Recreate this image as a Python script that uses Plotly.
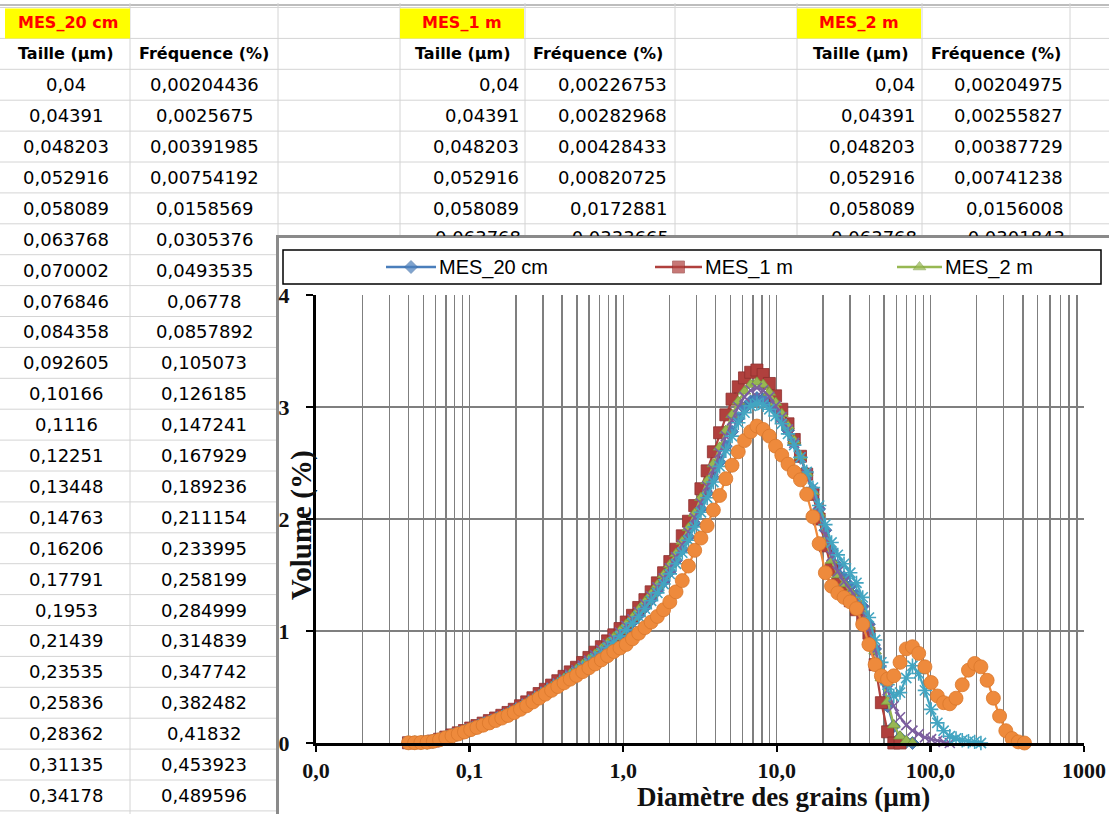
import plotly.graph_objects as go

W, H = 1109, 814

# ---------------- data ----------------
sizes = [0.04, 0.04391, 0.048203, 0.052916, 0.058089, 0.063768, 0.070002, 0.076846, 0.084358, 0.092605,
         0.10166, 0.1116, 0.12251, 0.13448, 0.14763, 0.16206, 0.17791, 0.1953, 0.21439, 0.23535,
         0.25836, 0.28362, 0.31135, 0.34178, 0.3752, 0.41188, 0.45215, 0.49635, 0.54488, 0.59815,
         0.65662, 0.72081, 0.79128, 0.86864, 0.95356, 1.0468, 1.1491, 1.2615, 1.3848, 1.5202,
         1.6688, 1.832, 2.0111, 2.2077, 2.4235, 2.6605, 2.9206, 3.2061, 3.5195, 3.8636,
         4.2413, 4.6559, 5.1111, 5.6107, 6.1593, 6.7614, 7.4224, 8.148, 8.9446, 9.819,
         10.779, 11.833, 12.989, 14.259, 15.653, 17.184, 18.864, 20.708, 22.732, 24.955,
         27.394, 30.072, 33.012, 36.24, 39.783, 43.672, 47.942, 52.629, 57.774, 63.422,
         69.622, 76.429, 83.901, 92.103, 101.11, 110.99, 121.84, 133.75, 146.83, 161.19,
         176.95, 194.25, 213.24, 234.08, 256.97, 282.09, 309.67, 339.95, 373.18, 409.67]

mes_20cm = [0.00204436, 0.0025675, 0.00391985, 0.00754192, 0.0158569, 0.0305376, 0.0493535, 0.06778, 0.0857892, 0.105073,
            0.126185, 0.147241, 0.167929, 0.189236, 0.211154, 0.233995, 0.258199, 0.284999, 0.314839, 0.347742,
            0.382482, 0.41832, 0.453923, 0.489596,
            0.526, 0.563, 0.601, 0.640, 0.681, 0.724, 0.769, 0.816, 0.865, 0.917,
            0.970, 1.02, 1.08, 1.14, 1.21, 1.28, 1.36, 1.44, 1.53, 1.63,
            1.73, 1.84, 1.96, 2.09, 2.23, 2.37, 2.51, 2.65, 2.78, 2.90,
            2.99, 3.05, 3.08, 3.07, 3.03, 2.97, 2.89, 2.79, 2.68, 2.55,
            2.41, 2.26, 2.09, 1.90, 1.72, 1.58, 1.48, 1.40, 1.32, 1.22,
            1.06, 0.84, 0.58, 0.33, 0.15, 0.05, 0.01, 0.0]

mes_1m = [0.00226753, 0.00282968, 0.00428433, 0.00820725, 0.0172881, 0.0333665,
          0.0525, 0.0718, 0.0908, 0.1112, 0.1335, 0.1557, 0.1775, 0.2000, 0.2231, 0.2472,
          0.2728, 0.3010, 0.3325, 0.3672, 0.4039, 0.4417, 0.4793, 0.5170,
          0.556, 0.595, 0.635, 0.676, 0.719, 0.764, 0.811, 0.860, 0.912, 0.966, 1.022,
          1.08, 1.14, 1.21, 1.28, 1.35, 1.43, 1.52, 1.62, 1.73, 1.85, 1.98,
          2.12, 2.27, 2.43, 2.60, 2.77, 2.93, 3.07, 3.18, 3.26, 3.31, 3.33,
          3.29, 3.21, 3.10, 2.98, 2.85, 2.71, 2.56, 2.40, 2.22, 2.00, 1.76,
          1.55, 1.42, 1.34, 1.27, 1.19, 1.10, 0.98,
          0.70, 0.36, 0.10, 0.0, 0.0]

mes_2m = [0.00204975, 0.00255827, 0.00387729, 0.00741238, 0.0156008, 0.0301843,
          0.0488, 0.0672, 0.0853, 0.1048, 0.1262, 0.1476, 0.1687, 0.1904, 0.2127, 0.2361,
          0.2609, 0.2885, 0.3193, 0.3534, 0.3894, 0.4265, 0.4637, 0.5010,
          0.539, 0.578, 0.618, 0.659, 0.701, 0.745, 0.792, 0.841, 0.892, 0.945, 1.000,
          1.06, 1.12, 1.19, 1.26, 1.33, 1.41, 1.50, 1.59, 1.69, 1.80, 1.92,
          2.05, 2.19, 2.34, 2.49, 2.64, 2.79, 2.93, 3.05, 3.14, 3.20, 3.22,
          3.20, 3.13, 3.04, 2.94, 2.83, 2.70, 2.56, 2.41, 2.24, 2.05, 1.83,
          1.63, 1.50, 1.42, 1.35, 1.28, 1.18, 1.04,
          0.82, 0.58, 0.37, 0.16, 0.06, 0.02, 0.0]

serie_4 = [0.0021, 0.0026, 0.0040, 0.0077, 0.0161, 0.0310, 0.0500, 0.0687, 0.0869, 0.1064,
           0.1278, 0.1491, 0.1700, 0.1916, 0.2138, 0.2369, 0.2614, 0.2885, 0.3187, 0.3520,
           0.3872, 0.4234, 0.4595, 0.4956,
           0.533, 0.571, 0.610, 0.650, 0.692, 0.736, 0.782, 0.830, 0.880, 0.932, 0.987,
           1.045, 1.105, 1.17, 1.24, 1.31, 1.39, 1.47, 1.56, 1.66, 1.77, 1.88,
           2.01, 2.14, 2.29, 2.44, 2.59, 2.74, 2.88, 3.00, 3.09, 3.15, 3.17,
           3.15, 3.09, 3.01, 2.91, 2.80, 2.68, 2.55, 2.40, 2.24, 2.06, 1.86,
           1.67, 1.53, 1.44, 1.37, 1.29, 1.18, 1.02,
           0.83, 0.65, 0.47, 0.33, 0.23, 0.16, 0.11, 0.08, 0.05, 0.035, 0.02, 0.01, 0.0]

serie_5 = [0.0020, 0.0025, 0.0038, 0.0073, 0.0154, 0.0297, 0.0481, 0.0662, 0.0839, 0.1028,
           0.1236, 0.1444, 0.1649, 0.1860, 0.2077, 0.2304, 0.2545, 0.2810, 0.3105, 0.3430,
           0.3775, 0.4130, 0.4485, 0.4840,
           0.520, 0.556, 0.593, 0.631, 0.671, 0.713, 0.757, 0.803, 0.851, 0.901, 0.954,
           1.01, 1.07, 1.13, 1.20, 1.27, 1.34, 1.42, 1.51, 1.60, 1.70, 1.81,
           1.93, 2.06, 2.19, 2.33, 2.47, 2.61, 2.74, 2.86, 2.95, 3.01, 3.03,
           3.02, 2.98, 2.92, 2.85, 2.76, 2.66, 2.55, 2.42, 2.28, 2.12, 1.95,
           1.79, 1.68, 1.60, 1.52, 1.43, 1.30, 1.12,
           0.92, 0.72, 0.52, 0.42, 0.45, 0.58, 0.69, 0.62, 0.47, 0.30, 0.18, 0.11, 0.06, 0.04,
           0.025, 0.015, 0.01, 0.0]

serie_6 = [0.0019, 0.0024, 0.0036, 0.0070, 0.0148, 0.0285, 0.0462, 0.0636, 0.0806, 0.0988,
           0.1189, 0.1390, 0.1588, 0.1792, 0.2003, 0.2223, 0.2457, 0.2716, 0.3004, 0.3322,
           0.3660, 0.4010, 0.4360, 0.4700,
           0.504, 0.537, 0.570, 0.603, 0.637, 0.671, 0.706, 0.742, 0.779, 0.817, 0.848,
           0.88, 0.93, 0.98, 1.03, 1.08, 1.13, 1.19, 1.26, 1.35, 1.45, 1.58,
           1.72, 1.83, 1.94, 2.08, 2.21, 2.36, 2.48, 2.60, 2.70, 2.78, 2.83,
           2.80, 2.74, 2.65, 2.57, 2.49, 2.42, 2.35, 2.22, 2.02, 1.78, 1.52,
           1.40, 1.34, 1.30, 1.26, 1.20, 1.06, 0.88,
           0.70, 0.60, 0.57, 0.60, 0.72, 0.84, 0.86, 0.80, 0.68, 0.54, 0.42, 0.36, 0.35, 0.40,
           0.52, 0.65, 0.71, 0.68, 0.56, 0.40, 0.24, 0.11, 0.04, 0.01, 0.0]

series_names = ["MES_20 cm", "MES_1 m", "MES_2 m", "Série 4", "Série 5", "Série 6"]
legend_names = ["MES_20 cm", "MES_1 m", "MES_2 m"]

x_tickvals = [0.01, 0.1, 1, 10, 100, 1000]
x_ticktext = ["0,0", "0,1", "1,0", "10,0", "100,0", "1000"]
y_tickvals = [0, 1, 2, 3, 4]
y_ticktext = ["0", "1", "2", "3", "4"]

table_sizes_shown = sizes[:24]
table_freq_20cm = mes_20cm[:24]
table_sizes_other = sizes[:6]
table_freq_1m = mes_1m[:6]
table_freq_2m = mes_2m[:6]

# ---------------- styles ----------------
colors = ["#4A7EBB", "#B0403D", "#97B852", "#7C5E9F", "#43A5C1", "#EE8A3C"]
edge = ["#3B689F", "#8E302E", "#7A9A3E", "#644985", "#3A93AE", "#D9772C"]
symbols = ["diamond", "square", "triangle-up", "x-thin-open", "asterisk-open", "circle"]
msizes = [10, 12, 11, 10, 12, 14]

SERIF = "Liberation Serif"
TABLE = "DejaVu Sans"
LEG = "Liberation Sans, Arial, sans-serif"


def fr(v):
    return str(v).replace(".", ",")


def px(x):
    return x / W


def py(y):
    return 1 - y / H


fig = go.Figure()

# ---------------- chart traces ----------------
for name, vals, c, e, s, m in zip(series_names, [mes_20cm, mes_1m, mes_2m, serie_4, serie_5, serie_6],
                                  colors, edge, symbols, msizes):
    openm = s.endswith("open")
    fig.add_trace(go.Scatter(
        x=sizes[:len(vals)], y=vals, name=name, mode="lines+markers",
        line=dict(color=c, width=2.25),
        marker=dict(symbol=s, size=m, color=c,
                    line=dict(color=c if openm else e, width=1.6 if openm else 0.8)),
        xaxis="x", yaxis="y", showlegend=False, cliponaxis=False, hoverinfo="skip"))

# ---------------- legend (drawn manually in pixel overlay) ----------------
leg_line_x = [(386, 436), (655, 702), (897, 942)]
leg_text_x = [437, 703, 943]
leg_y = 267
for i, (x0, x1) in enumerate(leg_line_x):
    fig.add_trace(go.Scatter(
        x=[x0, (x0 + x1) / 2, x1], y=[leg_y, leg_y, leg_y], mode="lines+markers",
        line=dict(color=colors[i], width=2.5),
        marker=dict(symbol=symbols[i], size=[0, msizes[i], 0], color=colors[i],
                    line=dict(color=edge[i], width=0.8)),
        xaxis="x2", yaxis="y2", showlegend=False, cliponaxis=False, hoverinfo="skip"))

# ---------------- partially hidden table row (clipped by overlay) ----------------
row_h = 30.9
row_top = 7.5


def rc(r):
    return row_top + row_h * (r + 0.5)


clip_x = [521, 669, 917, 1065]
clip_txt = [fr(table_sizes_other[5]), fr(table_freq_1m[5]), fr(table_sizes_other[5]), fr(table_freq_2m[5])]
fig.add_trace(go.Scatter(
    x=clip_x, y=[rc(7)] * 4, mode="text", text=clip_txt, textposition="middle left",
    textfont=dict(family=TABLE, size=18, color="black"),
    xaxis="x3", yaxis="y3", showlegend=False, hoverinfo="skip"))

# ---------------- shapes: spreadsheet grid, chart frame, legend box ----------------
shapes = []
grid_c = "#d4d4d4"
shapes.append(dict(type="line", xref="paper", yref="paper", x0=0, x1=1, y0=py(5), y1=py(5),
                   line=dict(color="#bdbdbd", width=2), layer="below"))
for k in range(27):
    yk = row_top + row_h * k
    shapes.append(dict(type="line", xref="paper", yref="paper", x0=0, x1=1, y0=py(yk), y1=py(yk),
                       line=dict(color=grid_c, width=1), layer="below"))
for xc in [130, 278, 400, 525, 675, 797, 922, 1070]:
    shapes.append(dict(type="line", xref="paper", yref="paper", x0=px(xc), x1=px(xc), y0=py(3), y1=0,
                       line=dict(color=grid_c, width=1), layer="below"))
for (a, b) in [(5, 130), (400, 524), (797, 921)]:
    shapes.append(dict(type="rect", xref="paper", yref="paper", x0=px(a), x1=px(b), y0=py(8.5), y1=py(38.5),
                       fillcolor="#FFFF00", line=dict(width=0), layer="below"))
# chart frame: white area + gray left/top borders (kept inside the figure)
shapes.append(dict(type="rect", xref="paper", yref="paper", x0=px(277), x1=1, y0=0, y1=py(236),
                   fillcolor="white", line=dict(width=0), layer="below"))
shapes.append(dict(type="line", xref="paper", yref="paper", x0=px(277.5), x1=px(277.5), y0=0, y1=py(235),
                   line=dict(color="#8a8a8a", width=3), layer="below"))
shapes.append(dict(type="line", xref="paper", yref="paper", x0=px(276), x1=1, y0=py(236.5), y1=py(236.5),
                   line=dict(color="#8a8a8a", width=3), layer="below"))
# legend box
shapes.append(dict(type="rect", xref="paper", yref="paper", x0=px(283), x1=px(1101), y0=py(250), y1=py(284),
                   fillcolor="rgba(0,0,0,0)", line=dict(color="black", width=1.5), layer="below"))

# ---------------- annotations ----------------
ann = []


def txt(x, y, t, anchor="center", size=18, bold=False, color="black", family=TABLE):
    ann.append(dict(x=px(x), y=py(y), xref="paper", yref="paper", text=t, showarrow=False,
                    xanchor=anchor, yanchor="middle",
                    font=dict(family=family, size=size, color=color, weight="bold" if bold else "normal")))


# headers
txt(68, rc(0), "MES_20 cm", size=16, bold=True, color="#FF0000")
txt(462, rc(0), "MES_1 m", size=16, bold=True, color="#FF0000")
txt(859, rc(0), "MES_2 m", size=16, bold=True, color="#FF0000")
for cx in [66, 463, 861]:
    txt(cx, rc(1), "Taille (µm)", size=16, bold=True)
for cx in [204, 598, 996]:
    txt(cx, rc(1), "Fréquence (%)", size=16, bold=True)
# MES_20 cm column (centred)
for i, (s, f) in enumerate(zip(table_sizes_shown, table_freq_20cm)):
    txt(66, rc(2 + i), fr(s))
    txt(204, rc(2 + i), fr(f))
# MES_1 m and MES_2 m (right aligned), first 5 fully visible rows
for i in range(5):
    txt(521, rc(2 + i), fr(table_sizes_other[i]), anchor="right")
    txt(669, rc(2 + i), fr(table_freq_1m[i]), anchor="right")
    txt(917, rc(2 + i), fr(table_sizes_other[i]), anchor="right")
    txt(1065, rc(2 + i), fr(table_freq_2m[i]), anchor="right")

# legend labels
for name, lx in zip(legend_names, leg_text_x):
    txt(lx, leg_y, name, anchor="left", size=20, family=LEG)

# axis titles
ann.append(dict(x=px(783), y=0, xref="paper", yref="paper", text="Diamètre des grains (µm)", showarrow=False,
                xanchor="center", yanchor="bottom",
                font=dict(family=SERIF, size=27, color="#111111", weight="bold")))
ann.append(dict(x=px(301), y=py(525), xref="paper", yref="paper", text="Volume (%)", showarrow=False,
                textangle=-90, xanchor="center", yanchor="middle",
                font=dict(family=SERIF, size=29, color="#111111", weight="bold")))

minor_vals = [k * 10.0 ** e for e in range(-2, 3) for k in range(2, 10)]

grid_col = "#7f7f7f"
fig.update_layout(
    width=W, height=H, margin=dict(l=0, r=0, t=0, b=0, pad=0), autosize=False,
    paper_bgcolor="white", plot_bgcolor="rgba(0,0,0,0)", showlegend=False,
    shapes=shapes, annotations=ann,
    xaxis=dict(type="log", range=[-2, 3], domain=[px(316), px(1084)], anchor="y", automargin=False,
               tickmode="array", tickvals=x_tickvals, ticktext=x_ticktext,
               ticks="outside", ticklen=6, tickwidth=2.5, tickcolor="black",
               showline=True, linecolor="black", linewidth=3,
               showgrid=True, gridcolor=grid_col, gridwidth=1.4, zeroline=False,
               minor=dict(tickvals=minor_vals, showgrid=True, gridcolor=grid_col, gridwidth=1.4, ticks=""),
               tickfont=dict(family=SERIF, size=22, color="#111111", weight="bold"),
               ticklabelstandoff=0, fixedrange=True),
    yaxis=dict(range=[0, 4], domain=[py(743), py(295)], anchor="x", automargin=False,
               tickmode="array", tickvals=y_tickvals, ticktext=y_ticktext,
               ticks="outside", ticklen=7, tickwidth=2.5, tickcolor="black",
               showline=True, linecolor="black", linewidth=3,
               showgrid=True, gridcolor=grid_col, gridwidth=1.4, zeroline=False,
               tickfont=dict(family=SERIF, size=22, color="#111111", weight="bold"),
               ticklabelstandoff=12, fixedrange=True),
    xaxis2=dict(domain=[0, 1], range=[0, W], visible=False, anchor="y2", fixedrange=True, automargin=False),
    yaxis2=dict(domain=[0, 1], range=[H, 0], visible=False, anchor="x2", fixedrange=True, automargin=False),
    xaxis3=dict(domain=[0, 1], range=[0, W], visible=False, anchor="y3", fixedrange=True, automargin=False),
    yaxis3=dict(domain=[py(236), 1], range=[236, 0], visible=False, anchor="x3", fixedrange=True,
                automargin=False),
)

fig.write_html(
    "out.html",
    config={"displayModeBar": False, "staticPlot": True},
    post_script="document.body.style.margin='0';document.body.style.padding='0';"
                "document.body.style.overflow='hidden';document.documentElement.style.overflow='hidden';",
)
